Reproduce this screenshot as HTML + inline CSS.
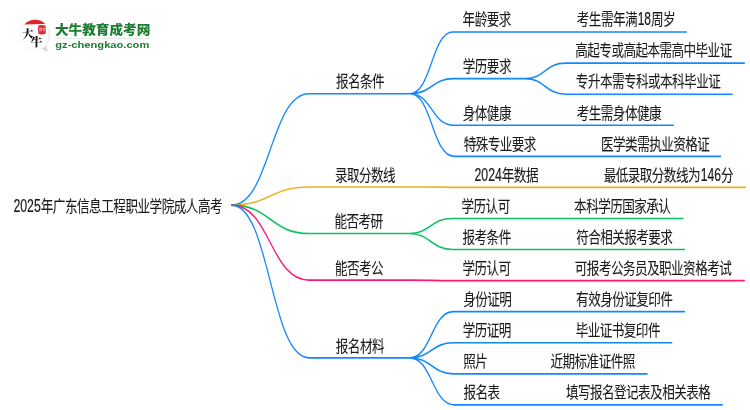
<!DOCTYPE html>
<html lang="zh-CN">
<head>
<meta charset="utf-8">
<title>2025年广东信息工程职业学院成人高考</title>
<style>
html,body{margin:0;padding:0;background:#fff;}
body{width:750px;height:410px;overflow:hidden;position:relative;font-family:"Liberation Sans","Noto Sans CJK SC",sans-serif;}
svg{position:absolute;left:0;top:0;display:block;will-change:transform;}
.t{font-family:"Liberation Sans","Noto Sans CJK SC",sans-serif;font-size:16.0px;font-weight:400;fill:#1a1a1a;stroke:#1a1a1a;stroke-width:0.08px;letter-spacing:-0.689px;}
.d{font-size:17.9px;letter-spacing:0;stroke-width:0.22px;}
.ln{fill:none;stroke-width:1.62;stroke-linecap:round;stroke-linejoin:round;}
</style>
</head>
<body>
<svg width="750" height="410" viewBox="0 0 750 410">
<rect width="750" height="410" fill="#ffffff"/>
<g transform="scale(0.76 1)">
<path class="ln" stroke="#1488ff" d="M304.74 205.10C355.66 205.10 355.66 93.74 406.58 93.74L539.47 93.74M539.47 93.74C567.70 93.74 567.70 32.05 595.92 32.05L690.13 32.05M690.13 32.05L745.13 32.05L903.16 32.05M539.47 93.74C568.16 93.74 568.16 78.66 596.84 78.66L690.53 78.66M690.53 78.66C717.24 78.66 717.24 63.12 743.95 63.12L979.47 63.12M690.53 78.66C717.57 78.66 717.57 94.19 744.61 94.19L963.42 94.19M539.47 93.74C568.16 93.74 568.16 125.26 596.84 125.26L690.53 125.26M690.53 125.26L745.53 125.26L886.05 125.26M539.47 93.74C568.49 93.74 568.49 156.33 597.50 156.33L722.89 156.33M722.89 156.33L778.29 156.33L948.16 156.33"/>
<path class="ln" stroke="#f5b022" d="M304.74 205.10C355.66 205.10 355.66 186.95 406.58 186.95L554.21 186.95M554.21 186.95C582.89 186.95 582.89 187.40 611.58 187.40L725.92 187.40M725.92 187.40L781.58 187.40L980.92 187.40"/>
<path class="ln" stroke="#0dc060" d="M304.74 205.10C355.66 205.10 355.66 233.56 406.58 233.56L538.03 233.56M538.03 233.56C566.45 233.56 566.45 218.47 594.87 218.47L688.55 218.47M688.55 218.47L742.50 218.47L898.68 218.47M538.03 233.56C566.97 233.56 566.97 249.54 595.92 249.54L689.47 249.54M689.47 249.54L744.47 249.54L900.66 249.54"/>
<path class="ln" stroke="#ff1873" d="M304.74 205.10C355.66 205.10 355.66 280.16 406.58 280.16L538.42 280.16M538.42 280.16C567.17 280.16 567.17 280.61 595.92 280.61L689.87 280.61M689.87 280.61L743.55 280.61L979.34 280.61"/>
<path class="ln" stroke="#1488ff" d="M304.74 205.10C355.66 205.10 355.66 357.84 406.58 357.84L539.08 357.84M539.08 357.84C567.76 357.84 567.76 311.68 596.45 311.68L690.13 311.68M690.13 311.68L744.47 311.68L900.66 311.68M539.08 357.84C567.76 357.84 567.76 342.75 596.45 342.75L690.13 342.75M690.13 342.75L744.47 342.75L883.95 342.75M539.08 357.84C567.96 357.84 567.96 373.82 596.84 373.82L658.29 373.82M658.29 373.82L711.05 373.82L851.45 373.82M539.08 357.84C568.49 357.84 568.49 404.89 597.89 404.89L675.53 404.89M675.53 404.89L731.58 404.89L950.39 404.89"/>
</g>
<text class="t" style="letter-spacing:-0.612px" transform="translate(12.74 211.50) scale(0.7870 1)"><tspan class="d" dx="0.89" textLength="34.69" lengthAdjust="spacingAndGlyphs">2025</tspan>年广东信息工程职业学院成人高考</text>
<text class="t" transform="translate(335.93 87.49) scale(0.7870 1)">报名条件</text>
<text class="t" transform="translate(462.62 25.35) scale(0.7870 1)">年龄要求</text>
<text class="t" transform="translate(576.83 25.35) scale(0.7870 1)">考生需年满<tspan class="d" dx="0.89" textLength="16.90" lengthAdjust="spacingAndGlyphs">18</tspan>周岁</text>
<text class="t" transform="translate(462.80 71.95) scale(0.7870 1)">学历要求</text>
<text class="t" transform="translate(575.29 56.42) scale(0.7870 1)">高起专或高起本需高中毕业证</text>
<text class="t" transform="translate(575.85 87.49) scale(0.7870 1)">专升本需专科或本科毕业证</text>
<text class="t" transform="translate(462.80 118.56) scale(0.7870 1)">身体健康</text>
<text class="t" transform="translate(576.77 118.56) scale(0.7870 1)">考生需身体健康</text>
<text class="t" transform="translate(463.70 149.63) scale(0.7870 1)">特殊专业要求</text>
<text class="t" transform="translate(601.06 149.63) scale(0.7870 1)">医学类需执业资格证</text>
<text class="t" transform="translate(334.92 180.70) scale(0.7870 1)">录取分数线</text>
<text class="t" transform="translate(473.84 180.70) scale(0.7870 1)"><tspan class="d" dx="0.89" textLength="34.69" lengthAdjust="spacingAndGlyphs">2024</tspan>年数据</text>
<text class="t" transform="translate(603.71 180.70) scale(0.7870 1)">最低录取分数线为<tspan class="d" dx="0.89" textLength="25.79" lengthAdjust="spacingAndGlyphs">146</tspan>分</text>
<text class="t" transform="translate(334.38 227.31) scale(0.7870 1)">能否考研</text>
<text class="t" transform="translate(461.54 211.77) scale(0.7870 1)">学历认可</text>
<text class="t" transform="translate(574.10 211.77) scale(0.7870 1)">本科学历国家承认</text>
<text class="t" transform="translate(462.55 242.84) scale(0.7870 1)">报考条件</text>
<text class="t" transform="translate(576.16 242.84) scale(0.7870 1)">符合相关报考要求</text>
<text class="t" transform="translate(335.03 273.91) scale(0.7870 1)">能否考公</text>
<text class="t" transform="translate(462.43 273.91) scale(0.7870 1)">学历认可</text>
<text class="t" transform="translate(574.84 273.91) scale(0.7870 1)">可报考公务员及职业资格考试</text>
<text class="t" transform="translate(335.84 351.59) scale(0.7870 1)">报名材料</text>
<text class="t" transform="translate(463.16 304.98) scale(0.7870 1)">身份证明</text>
<text class="t" transform="translate(576.10 304.98) scale(0.7870 1)">有效身份证复印件</text>
<text class="t" transform="translate(462.78 336.05) scale(0.7870 1)">学历证明</text>
<text class="t" transform="translate(575.72 336.05) scale(0.7870 1)">毕业证书复印件</text>
<text class="t" transform="translate(463.17 367.12) scale(0.7870 1)">照片</text>
<text class="t" transform="translate(550.53 367.12) scale(0.7870 1)">近期标准证件照</text>
<text class="t" transform="translate(463.54 398.19) scale(0.7870 1)">报名表</text>
<text class="t" transform="translate(565.90 398.19) scale(0.7870 1)">填写报名登记表及相关表格</text>
<g id="logo">
<defs>
<radialGradient id="bubble" cx="0.42" cy="0.44" r="0.6">
<stop offset="0" stop-color="#ffffff"/>
<stop offset="0.84" stop-color="#ffffff"/>
<stop offset="0.95" stop-color="#ededed"/>
<stop offset="1" stop-color="#d9d9d9"/>
</radialGradient>
</defs>
<path d="M46.20 44.50A14.8 14.8 0 1 0 40.74 48.32Q44.17 50.91 48.20 51.70Q46.30 48.50 46.20 44.50Z" fill="url(#bubble)" stroke="#e6e6e6" stroke-width="0.4"/>
<path d="M24.48 24.4A14.8 14.8 0 0 1 45.32 23.90Q35.20 23.80 24.48 24.4Z" fill="#e3232c"/>
<path d="M38.400 25.400q3.500 -1.000 7.000 0.200q1.100 4.200 0.200 8.200q-3.500 1.300 -7.000 0.100q-1.300 -4.200 -0.200 -8.500z" fill="#d6303a"/>
<text x="38.9" y="31.3" font-family="'Liberation Sans','Noto Sans CJK SC',sans-serif" font-weight="bold" font-size="3.5" fill="#f0b0b0">教育</text>
<text transform="translate(21.9 38.9) rotate(-9) skewX(-10)" font-family="'Liberation Serif','Noto Serif CJK SC',serif" font-weight="900" font-size="11.6" fill="#161616">大</text>
<text transform="translate(30.5 46.7) rotate(-5) skewX(-6)" font-family="'Liberation Serif','Noto Serif CJK SC',serif" font-weight="900" font-size="12" fill="#161616">牛</text>
<text x="54.9" y="34.4" font-family="'Liberation Sans','Noto Sans CJK SC',sans-serif" font-weight="900" font-size="12.7" fill="#1b7d2f" textLength="95.4" lengthAdjust="spacingAndGlyphs">大牛教育成考网</text>
<rect x="55" y="38.4" width="95" height="0.6" fill="#cfe2d2"/>
<text x="55.3" y="48.1" font-family="'Liberation Sans',sans-serif" font-weight="bold" font-size="9.9" fill="#1b7d2f" textLength="94" lengthAdjust="spacingAndGlyphs">gz-chengkao.com</text>
</g>
</svg>
</body>
</html>
